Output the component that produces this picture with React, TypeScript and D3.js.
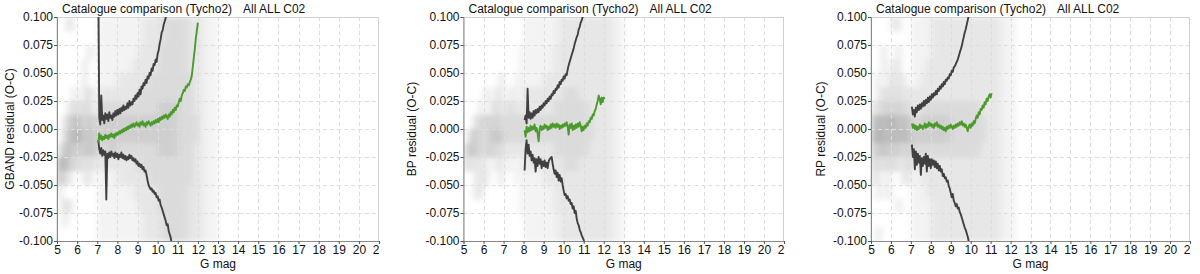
import React, { useEffect, useRef } from 'react';
import * as d3 from 'd3';

// tick labels
const magTicks = [5, 6, 7, 8, 9, 10, 11, 12, 13, 14, 15, 16, 17, 18, 19, 20, 21];
const residTicks = [0.1, 0.075, 0.05, 0.025, 0, -0.025, -0.05, -0.075, -0.1];

const titleMain = 'Catalogue comparison (Tycho2)';
const titleTag = 'All ALL C02';
const xTitle = 'G mag';
const yTitles = ['GBAND residual (O-C)', 'BP residual (O-C)', 'RP residual (O-C)'];

// curves: first magnitude, step 0.05 mag, residuals in milli-mag
const curveStep = 0.05;
const gUpperStart = 7.05;
const gUpper = [140, 10, 4, 30, 8, 12, 5, 14, 9, 13, 7, 15, 10, 12, 8, 14, 11, 16, 12, 17, 13, 18, 14, 19, 16, 21, 17, 20, 18, 23, 19, 25, 21, 24, 22, 27, 25, 30, 27, 32, 29, 35, 31, 38, 36, 41, 39, 44, 41, 47, 45, 50, 48, 54, 52, 58, 57, 62, 60, 67, 70, 76, 80, 86, 88, 93, 96, 99, 103];
const gLowerStart = 7.05;
const gLower = [-10, -18, -22, -17, -24, -19, -23, -20, -63, -22, -26, -21, -25, -20, -24, -22, -26, -21, -25, -22, -27, -23, -25, -21, -26, -23, -27, -24, -28, -25, -27, -23, -26, -24, -28, -26, -29, -27, -31, -29, -33, -31, -34, -32, -36, -34, -38, -37, -41, -46, -50, -52, -54, -53, -56, -55, -58, -57, -61, -60, -64, -63, -68, -70, -73, -76, -79, -82, -86, -85, -91, -94, -97, -102];
const gMedianStart = 7.05;
const gMedian = [-12, -4, -9, -6, -10, -7, -9, -5, -8, -6, -9, -5, -7, -4, -7, -5, -8, -4, -6, -3, -5, -2, -4, -1, -3, 0, -2, 1, -1, 2, 0, 3, 1, 4, 2, 5, 2, 4, 6, 3, 5, 2, 6, 4, 7, 3, 5, 2, 6, 4, 7, 5, 3, 6, 4, 7, 5, 8, 6, 9, 6, 10, 8, 11, 9, 12, 10, 13, 11, 9, 13, 11, 15, 13, 17, 15, 19, 17, 21, 20, 24, 27, 25, 30, 32, 35, 34, 38, 37, 40, 39, 42, 44, 48, 56, 64, 72, 81, 88, 95];

const bpUpperStart = 8.05;
const bpUpper = [8, 12, 5, 36, 10, 15, 9, 14, 10, 16, 12, 17, 14, 18, 15, 20, 17, 21, 19, 23, 21, 25, 23, 27, 25, 29, 27, 31, 30, 34, 32, 36, 35, 39, 37, 42, 40, 44, 43, 47, 45, 49, 48, 53, 57, 60, 63, 66, 69, 72, 76, 79, 82, 84, 89, 91, 95, 97, 100, 103];
const bpLowerStart = 8.05;
const bpLower = [-37, -18, -10, -22, -14, -24, -20, -28, -23, -30, -26, -38, -27, -33, -25, -31, -27, -35, -29, -33, -28, -34, -30, -35, -29, -27, -26, -25, -31, -36, -40, -37, -43, -39, -46, -41, -47, -44, -50, -55, -59, -58, -62, -60, -64, -63, -67, -66, -71, -69, -75, -73, -80, -84, -86, -90, -92, -95, -97, -99, -103];
const bpMedianStart = 8.05;
const bpMedian = [-1, -7, 2, -3, 1, -2, 3, -1, 2, 0, 4, -2, 1, -4, -11, 0, 3, -1, 2, 0, 4, 1, 3, -1, 2, 0, 4, 1, 5, 2, 4, 1, 5, 2, 4, 0, 3, 1, 4, 2, 5, 3, 6, 2, -5, 4, 1, 5, -1, 3, 0, 4, 1, 5, 2, 6, 3, -2, 2, -1, 3, 1, 5, 3, 7, 6, 10, 9, 13, 12, 16, 18, 22, 25, 30, 27, 22, 28, 24, 28, 27];

const rpUpperStart = 7.05;
const rpUpper = [20, 13, 17, 11, 19, 15, 21, 17, 22, 18, 23, 20, 25, 21, 26, 23, 28, 24, 29, 26, 31, 28, 32, 30, 34, 31, 36, 34, 38, 36, 40, 38, 42, 40, 44, 43, 46, 45, 49, 48, 52, 51, 55, 56, 58, 60, 62, 65, 68, 71, 74, 78, 82, 86, 89, 93, 97, 101];
const rpLowerStart = 7.05;
const rpLower = [-14, -25, -18, -36, -20, -32, -22, -30, -24, -41, -26, -33, -25, -31, -22, -38, -24, -33, -27, -35, -27, -32, -28, -34, -29, -35, -31, -37, -33, -38, -36, -42, -40, -44, -43, -47, -46, -51, -53, -57, -61, -58, -64, -66, -69, -67, -71, -70, -74, -76, -79, -82, -85, -88, -90, -93, -96, -100];
const rpMedianStart = 7.05;
const rpMedian = [5, 1, 4, 0, 3, -1, 2, 0, 4, 1, 3, 0, 2, 5, 1, 4, 2, 6, 3, 5, 2, 4, 1, 5, 3, 6, 2, 4, 1, 3, 0, 2, -1, 1, -2, 2, 0, 3, 1, 4, 2, 0, 3, 1, 4, 2, 5, 3, 6, 4, 7, 3, 5, 2, 4, 1, -2, 2, 4, 1, 5, 3, 7, 5, 9, 12, 10, 15, 13, 18, 17, 21, 19, 24, 22, 27, 25, 29, 31, 28, 32];

// density (0-9), rows from +0.1 down to -0.1 in 0.0125 bins, columns from mag 5 in 0.25 bins
const densMag0 = 5;
const densMagStep = 0.25;
const densResStep = 0.0125;
const gDensity = [
  '0030000011111111122223333322211100',
  '0000000011111111122223333322211100',
  '0000002011111111222233333322211100',
  '0000020011111112222233333322211100',
  '0000020011112222223333333332211100',
  '0002023022222222333333333332211100',
  '0023233033333333333344443332211100',
  '0245535344444444444444443333211100',
  '0356645444444444444444443333211100',
  '2554445433443333333344443332211100',
  '6643323222222222333333333332211100',
  '5320022011112222223333333332211100',
  '2000000011111112222233333322211100',
  '0320000011111111222233333322211100',
  '0200000011111111122223333322211100',
  '0000000011111111122223333322211100',
];
const bpDensity = [
  '0000000000001111111222222222221100',
  '0000000000001111111222222222221100',
  '0000000000011111112222222222221100',
  '0000000000011111112222222222221100',
  '0000000200111111222222222222221100',
  '0000202202112222222233322222221100',
  '0002023223222222223333333222221100',
  '0033434333333333333333333322221100',
  '0443345433333333333333333322221100',
  '3543343322222222223333333222221100',
  '3222202211112222222233322222221100',
  '0022200200111111222222222222221100',
  '0022000000011111112222222222221100',
  '0000000000011111112222222222221100',
  '0000000000001111111222222222221100',
  '0000000000001111111222222222221100',
];
const rpDensity = [
  '0000220011112222222222222211100000',
  '0000000011112222222222222211100000',
  '0020020011112222222222222211100000',
  '0020220011122222222222222211100000',
  '0202222011222222222222222211100000',
  '0223232222222222222222222211100000',
  '2334343322333333333333222211100000',
  '5656655533444444333333322211100000',
  '6665656544444444333333322211100000',
  '4454443433333333333333222211100000',
  '3323322322222222222222222211100000',
  '2202002211222222222222222211100000',
  '0202000011122222222222222211100000',
  '0000020011112222222222222211100000',
  '0000000011112222222222222211100000',
  '0200000011112222222222222211100000',
];

const W = 1200;
const H = 274;
const plotTop = 17;
const plotBottom = 241;
const fontFamily = '"Liberation Sans", Arial, Helvetica, sans-serif';

type Panel = {
  x0: number; x1: number; ylabX: number; ytitle: string;
  density: string[];
  curves: { start: number; vals: number[]; color: string }[];
};

const dark = '#404040';
const green = '#4b9a2c';

const panels: Panel[] = [
  { x0: 57, x1: 379, ylabX: 10, ytitle: yTitles[0], density: gDensity,
    curves: [
      { start: gUpperStart, vals: gUpper, color: dark },
      { start: gLowerStart, vals: gLower, color: dark },
      { start: gMedianStart, vals: gMedian, color: green },
    ] },
  { x0: 463.5, x1: 784, ylabX: 412, ytitle: yTitles[1], density: bpDensity,
    curves: [
      { start: bpUpperStart, vals: bpUpper, color: dark },
      { start: bpLowerStart, vals: bpLower, color: dark },
      { start: bpMedianStart, vals: bpMedian, color: green },
    ] },
  { x0: 871, x1: 1190, ylabX: 821, ytitle: yTitles[2], density: rpDensity,
    curves: [
      { start: rpUpperStart, vals: rpUpper, color: dark },
      { start: rpLowerStart, vals: rpLower, color: dark },
      { start: rpMedianStart, vals: rpMedian, color: green },
    ] },
];

export default function App() {
  const ref = useRef<SVGSVGElement>(null);

  useEffect(() => {
    const svg = d3.select(ref.current);
    svg.selectAll('*').remove();
    const defs = svg.append('defs');
    defs.append('filter').attr('id', 'soft')
      .attr('x', '-10%').attr('y', '-10%').attr('width', '120%').attr('height', '120%')
      .append('feGaussianBlur').attr('stdDeviation', '3.5 2.5');

    panels.forEach((p, pi) => {
      const x = d3.scaleLinear().domain([5, 21]).range([p.x0, p.x1]);
      const y = d3.scaleLinear().domain([-0.1, 0.1]).range([plotBottom, plotTop]);
      const g = svg.append('g');

      defs.append('clipPath').attr('id', `clip${pi}`)
        .append('rect').attr('x', p.x0).attr('y', plotTop)
        .attr('width', p.x1 - p.x0).attr('height', plotBottom - plotTop);
      // bottom axis group is translated, so this clip is in its local space
      defs.append('clipPath').attr('id', `clipx${pi}`)
        .append('rect').attr('x', p.x0 - 20).attr('y', -2)
        .attr('width', p.x1 - p.x0 + 21).attr('height', 30);

      // density
      const cells: { m: number; r: number; d: number }[] = [];
      p.density.forEach((row, ri) => {
        row.split('').forEach((ch, ci) => {
          const d = +ch;
          if (d > 0) cells.push({ m: densMag0 + ci * densMagStep, r: 0.1 - ri * densResStep, d });
        });
      });
      g.append('g').attr('clip-path', `url(#clip${pi})`)
        .append('g').attr('filter', 'url(#soft)')
        .selectAll('rect').data(cells).join('rect')
        .attr('x', (c) => x(c.m))
        .attr('y', (c) => y(c.r))
        .attr('width', x(densMag0 + densMagStep) - x(densMag0) + 0.5)
        .attr('height', y(0) - y(densResStep) + 0.5)
        .attr('fill', (c) => { const v = 255 - c.d * 12; return `rgb(${v},${v},${v})`; });

      // grid
      const grid = g.append('g').attr('stroke', '#dedede').attr('stroke-width', 1)
        .attr('stroke-dasharray', '4,3');
      grid.selectAll('.vg').data(magTicks.slice(1, -1)).join('line')
        .attr('x1', (d) => Math.round(x(d)) + 0.5).attr('x2', (d) => Math.round(x(d)) + 0.5)
        .attr('y1', plotTop).attr('y2', plotBottom);
      grid.selectAll('.hg').data(residTicks.slice(1, -1)).join('line')
        .attr('x1', p.x0).attr('x2', p.x1)
        .attr('y1', (d) => Math.round(y(d)) + 0.5).attr('y2', (d) => Math.round(y(d)) + 0.5);

      // frame
      g.append('rect').attr('x', p.x0).attr('y', plotTop + 0.5)
        .attr('width', p.x1 - p.x0 - 0.5).attr('height', plotBottom - plotTop)
        .attr('fill', 'none').attr('stroke', '#d0d0d0');

      // curves
      const line = d3.line<number>();
      const cg = g.append('g').attr('clip-path', `url(#clip${pi})`);
      p.curves.forEach((c) => {
        const pts = c.vals.map((v, i) => [x(c.start + i * curveStep), y(v / 1000)] as [number, number]);
        cg.append('path').attr('d', line(pts) as string)
          .attr('fill', 'none').attr('stroke', c.color).attr('stroke-width', 1.9)
          .attr('stroke-linejoin', 'round');
      });

      // axes
      const ax = g.append('g').attr('transform', `translate(${p.x0},0)`)
        .call(d3.axisLeft(y).tickValues(residTicks).tickFormat((d) => (+d).toFixed(3)).tickSize(3).tickPadding(1));
      const bx = g.append('g').attr('transform', `translate(0,${plotBottom})`)
        .attr('clip-path', `url(#clipx${pi})`)
        .call(d3.axisBottom(x).tickValues(magTicks).tickFormat((d) => String(d)).tickSize(3).tickPadding(1));
      [ax, bx].forEach((a) => {
        a.select('.domain').attr('stroke', '#8a8a8a');
        a.selectAll('.tick line').attr('stroke', '#555');
        a.selectAll('text').attr('fill', '#111').attr('font-size', 12).attr('font-family', fontFamily);
      });

      // titles
      g.append('text').attr('x', p.x0 + 5).attr('y', 13)
        .attr('font-size', 12).attr('font-family', fontFamily).attr('fill', '#111')
        .text(titleMain);
      g.append('text').attr('x', p.x0 + 186).attr('y', 13)
        .attr('font-size', 12).attr('font-family', fontFamily).attr('fill', '#111')
        .text(titleTag);
      g.append('text').attr('x', (p.x0 + p.x1) / 2).attr('y', 268)
        .attr('text-anchor', 'middle')
        .attr('font-size', 12).attr('font-family', fontFamily).attr('fill', '#111')
        .text(xTitle);
      g.append('text')
        .attr('transform', `translate(${p.ylabX + 4},${(plotTop + plotBottom) / 2}) rotate(-90)`)
        .attr('text-anchor', 'middle')
        .attr('font-size', 12).attr('font-family', fontFamily).attr('fill', '#111')
        .text(p.ytitle);
    });
  }, []);

  return (
    <div style={{ position: 'absolute', left: 0, top: 0, width: W, height: H, background: '#fff' }}>
      <svg ref={ref} width={W} height={H} />
    </div>
  );
}
